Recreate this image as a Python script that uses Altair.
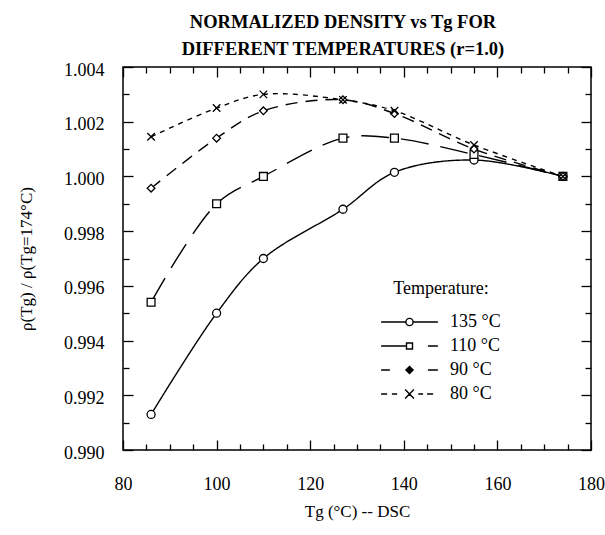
import altair as alt
import pandas as pd

# ---- data ----
tg = [86, 100, 110, 127, 138, 155, 174]
rho_135 = [0.9913, 0.9950, 0.9970, 0.9988, 1.00015, 1.0006, 1.0000]
rho_110 = [0.9954, 0.9990, 1.0000, 1.0014, 1.0014, 1.0008, 1.0000]
rho_90 = [0.99957, 1.0014, 1.0024, 1.0028, 1.0023, 1.0010, 1.0000]
rho_80 = [1.00145, 1.0025, 1.0030, 1.0028, 1.0024, 1.00115, 1.0000]
series_labels = ["135 °C", "110 °C", "90 °C", "80 °C"]

x_major = [80, 100, 120, 140, 160, 180]
x_minor = [85, 90, 95, 105, 110, 115, 125, 130, 135, 145, 150, 155, 165, 170, 175]
y_major = [0.990, 0.992, 0.994, 0.996, 0.998, 1.000, 1.002, 1.004]
y_minor = [0.991, 0.993, 0.995, 0.997, 0.999, 1.001, 1.003]

# ---- styles ----
dash_range = [[1, 0], [28, 12], [12, 8], [5, 5]]
marker_shapes = ["circle", "square", "diamond", "M-1,-1L1,1M-1,1L1,-1"]
marker_sizes = [64, 56, 30, 110]
legend_paths = [
    "M-7.1,0H-0.9M0.9,0H7.1M0.9,0A0.9,0.9,0,1,1,-0.9,0A0.9,0.9,0,1,1,0.9,0",
    "M-7.1,0H-0.75M-0.75,-0.75H0.75V0.75H-0.75ZM4.6,0H7.1",
    "M-7.1,0H-4.9M0,-0.9L0.9,0L0,0.9L-0.9,0ZM0,-0.45L0.45,0L0,0.45L-0.45,0ZM-0.5,0H0.5M4.6,0H7.1",
    "M-7.1,0H-5.6M-4.4,0H-3.1M-1.1,-1.1L1.1,1.1M-1.1,1.1L1.1,-1.1M2.2,0H3.4M4.4,0H5.9",
]

rows = []
for lab, vals in zip(series_labels, [rho_135, rho_110, rho_90, rho_80]):
    for x, v in zip(tg, vals):
        rows.append({"tg": x, "rho": v, "series": lab, "legend": lab})
df = pd.DataFrame(rows)

FONT = "Liberation Serif"
xs = alt.Scale(domain=[80, 180], nice=False, zero=False)
ys = alt.Scale(domain=[0.990, 1.004], nice=False, zero=False)


def xaxis(orient, values, size, **kw):
    return alt.Axis(orient=orient, values=values, tickSize=size, offset=-size,
                    domain=False, grid=False, labelFlush=False, **kw)


def yaxis(orient, values, size, **kw):
    return alt.Axis(orient=orient, values=values, tickSize=size, offset=-size,
                    domain=False, grid=False, labelFlush=False, **kw)


base = alt.Chart(df)

lines = base.mark_line(interpolate="catmull-rom", color="black", strokeWidth=1.4).encode(
    x=alt.X("tg:Q", scale=xs,
            axis=xaxis("bottom", x_major, 10, labelPadding=25, format="d",
                       title="Tg (°C) -- DSC", titlePadding=10)),
    y=alt.Y("rho:Q", scale=ys,
            axis=yaxis("left", y_major, 10, labelPadding=19, labelOffset=3,
                       format=".3f",
                       title="ρ(Tg) / ρ(Tg=174°C)", titlePadding=28)),
    strokeDash=alt.StrokeDash("series:N",
                              scale=alt.Scale(domain=series_labels, range=dash_range),
                              legend=None),
    detail="series:N",
)

points = base.mark_point(filled=False, fill="white", color="black", strokeWidth=1.3,
                         opacity=1).encode(
    x=alt.X("tg:Q", scale=xs, axis=xaxis("top", x_major, 10, labels=False, title=None)),
    y=alt.Y("rho:Q", scale=ys, axis=yaxis("right", y_major, 10, labels=False, title=None)),
    shape=alt.Shape("series:N", scale=alt.Scale(domain=series_labels, range=marker_shapes),
                    legend=None),
    size=alt.Size("series:N", scale=alt.Scale(domain=series_labels, range=marker_sizes),
                  legend=None),
)

legend_layer = base.mark_point(filled=False, color="black", opacity=0, size=64).encode(
    x=alt.X("tg:Q", scale=xs, axis=xaxis("bottom", x_minor, 6, labels=False, title=None)),
    y=alt.Y("rho:Q", scale=ys, axis=yaxis("left", y_minor, 6, labels=False, title=None)),
    shape=alt.Shape("legend:N",
                    scale=alt.Scale(domain=series_labels, range=legend_paths),
                    legend=alt.Legend(title="Temperature:", orient="none",
                                      legendX=258, legendY=213,
                                      symbolSize=64, symbolOpacity=1,
                                      symbolStrokeColor="black", symbolStrokeWidth=1.4,
                                      symbolOffset=19.5, labelOffset=31.5,
                                      titleAnchor="middle", titlePadding=15,
                                      rowPadding=6,
                                      labelFont=FONT, labelFontSize=18,
                                      labelColor="black",
                                      titleFont=FONT, titleFontSize=18,
                                      titleFontWeight="normal", titleColor="black")),
)

minor_top = base.mark_point(opacity=0).encode(
    x=alt.X("tg:Q", scale=xs, axis=xaxis("top", x_minor, 6, labels=False, title=None)),
    y=alt.Y("rho:Q", scale=ys, axis=yaxis("right", y_minor, 6, labels=False, title=None)),
)

chart = alt.layer(lines, points, legend_layer, minor_top).resolve_axis(
    x="independent", y="independent"
).resolve_scale(
    shape="independent"
).properties(
    width=468,
    height=383,
    background="white",
    padding={"left": 123, "top": 67, "right": 14, "bottom": 85},
    autosize=alt.AutoSizeParams(type="none"),
    title=alt.TitleParams(
        text=["NORMALIZED DENSITY vs Tg FOR", "DIFFERENT TEMPERATURES (r=1.0)"],
        font=FONT, fontSize=18.5, fontWeight="bold", color="black",
        anchor="middle", dx=-14, offset=3, lineHeight=27,
    ),
).configure_view(
    stroke="black", strokeWidth=1.5
).configure_axis(
    labelFont=FONT, labelFontSize=18, labelColor="black",
    titleFont=FONT, titleFontSize=17, titleFontWeight="normal", titleColor="black",
    tickColor="black", tickWidth=1.3,
)

chart.save("out.html", embed_options={"renderer": "svg", "actions": False})
